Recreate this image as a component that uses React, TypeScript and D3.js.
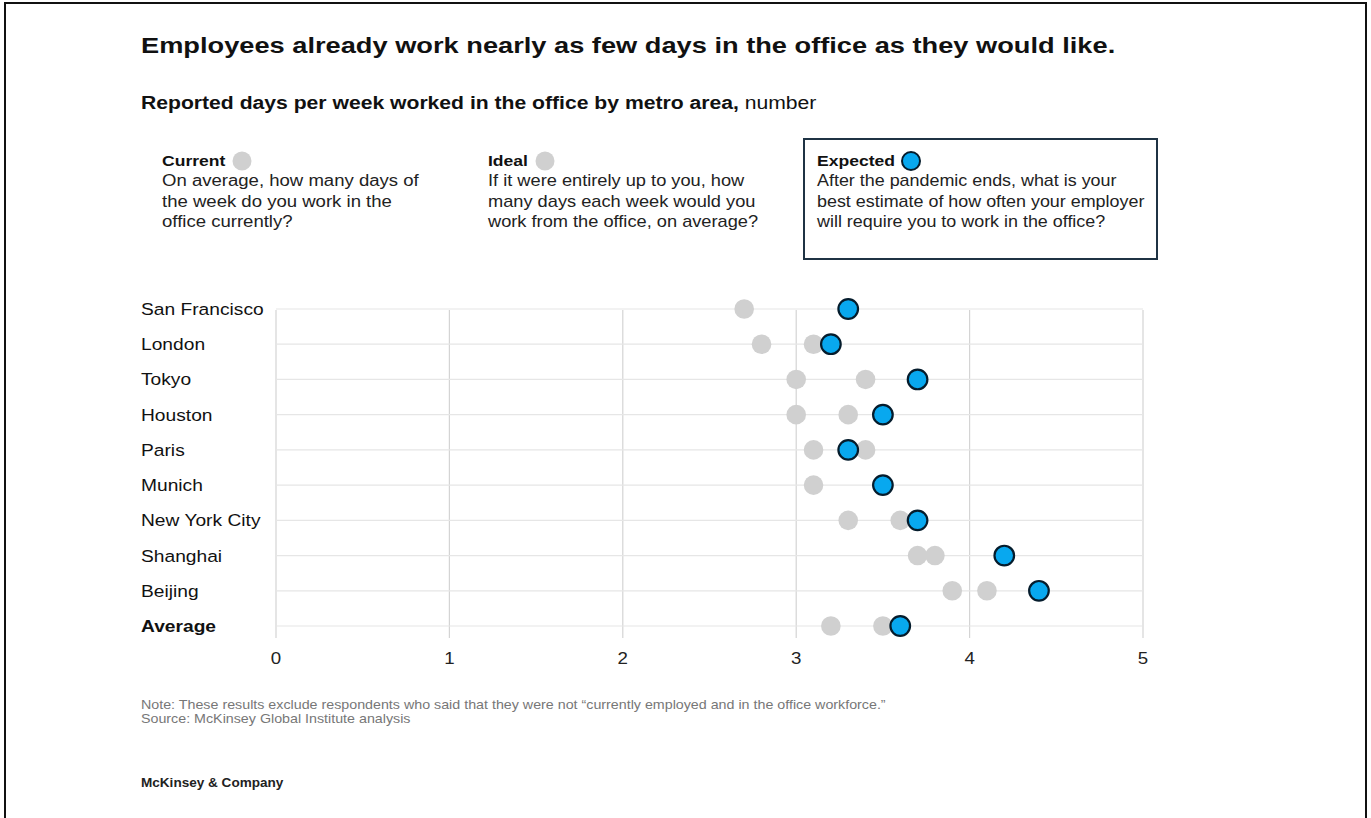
import React from "react";
import * as d3 from "d3";

const cities = ["San Francisco", "London", "Tokyo", "Houston", "Paris", "Munich", "New York City", "Shanghai", "Beijing", "Average"];
const current = [2.7, 2.8, 3.0, 3.0, 3.1, 3.1, 3.3, 3.7, 3.9, 3.2];
const ideal = [3.3, 3.1, 3.4, 3.3, 3.4, 3.5, 3.6, 3.8, 4.1, 3.5];
const expected = [3.3, 3.2, 3.7, 3.5, 3.3, 3.5, 3.7, 4.2, 4.4, 3.6];
const xTicks = [0, 1, 2, 3, 4, 5];

const legendItems = [
  { title: "Current", lines: ["On average, how many days of", "the week do you work in the", "office currently?"], kind: "grey" },
  { title: "Ideal", lines: ["If it were entirely up to you, how", "many days each week would you", "work from the office, on average?"], kind: "grey" },
  { title: "Expected", lines: ["After the pandemic ends, what is your", "best estimate of how often your employer", "will require you to work in the office?"], kind: "blue" },
];

const FONT = "'Liberation Sans', Arial, Helvetica, sans-serif";
const GREY = "#d0d0d0";
const BLUE = "#08a8ef";
const NAVY = "#051c2c";

function T(props: any) {
  const { x, y, sx = 1, children, ...rest } = props;
  return (
    <text transform={`translate(${x},${y}) scale(${sx},1)`} {...rest}>{children}</text>
  );
}

export default function App() {
  const W = 1371, H = 818;
  const x = d3.scaleLinear().domain([0, 5]).range([276, 1143]);
  const y = d3.scalePoint<string>().domain(cities).range([309, 626]);
  const legendX = [162, 488, 817];
  const legendSx = [1.16, 1.14, 1.12];
  const circleX = [242, 545, 911];

  return (
    <svg width={W} height={H} style={{ position: "absolute", left: 0, top: 0, background: "#fff" }} fontFamily={FONT}>
      <rect x={0} y={0} width={W} height={H} fill="#fff" />
      {/* frame */}
      <line x1={4} y1={3} x2={1367} y2={3} stroke="#111" strokeWidth={2} />
      <line x1={5} y1={2} x2={5} y2={H} stroke="#111" strokeWidth={2} />
      <line x1={1366} y1={2} x2={1366} y2={H} stroke="#111" strokeWidth={2} />

      <T x={141} y={53} sx={1.21} fontSize={22.5} fontWeight="bold" fill="#111">Employees already work nearly as few days in the office as they would like.</T>
      <T x={141} y={109} sx={1.175} fontSize={18} fill="#111">
        <tspan fontWeight="bold">Reported days per week worked in the office by metro area,</tspan>
        <tspan> number</tspan>
      </T>

      {/* legend */}
      <rect x={804} y={139} width={353} height={120} fill="none" stroke="#1f3344" strokeWidth={2} />
      {legendItems.map((it, i) => (
        <g key={it.title}>
          <T x={legendX[i]} y={166} sx={1.17} fontSize={15} fontWeight="bold" fill="#111">{it.title}</T>
          <circle cx={circleX[i]} cy={161} r={it.kind === "blue" ? 9 : 9.5}
            fill={it.kind === "blue" ? BLUE : GREY} stroke={it.kind === "blue" ? NAVY : "none"} strokeWidth={2} />
          {it.lines.map((l, j) => (
            <T key={j} x={legendX[i]} y={186 + j * 20.5} sx={legendSx[i]} fontSize={16} fill="#222">{l}</T>
          ))}
        </g>
      ))}

      {/* grid */}
      {xTicks.map((t) => (
        <line key={"v" + t} x1={x(t)} x2={x(t)} y1={310} y2={638} stroke="#d4d4d4" strokeWidth={1.2} />
      ))}
      {cities.map((c) => (
        <line key={"h" + c} x1={x(0)} x2={x(5)} y1={y(c)!} y2={y(c)!} stroke="#e6e6e6" strokeWidth={1.2} />
      ))}

      {/* labels */}
      {cities.map((c) => (
        <T key={"l" + c} x={141} y={y(c)! + 6} sx={1.13} fontSize={17} fill="#111" fontWeight={c === "Average" ? 600 : "normal"}>{c}</T>
      ))}
      {xTicks.map((t) => (
        <T key={"t" + t} x={x(t)} y={664} sx={1.1} fontSize={17} fill="#222" textAnchor="middle">{t}</T>
      ))}

      {/* dots */}
      {cities.map((c, i) => (
        <g key={"d" + c}>
          <circle cx={x(current[i])} cy={y(c)!} r={9.8} fill={GREY} />
          <circle cx={x(ideal[i])} cy={y(c)!} r={9.8} fill={GREY} />
          <circle cx={x(expected[i])} cy={y(c)!} r={9.8} fill={BLUE} stroke={NAVY} strokeWidth={2.2} />
        </g>
      ))}

      <T x={141} y={709} sx={1.19} fontSize={12} fill="#777">Note: These results exclude respondents who said that they were not “currently employed and in the office workforce.”</T>
      <T x={141} y={723} sx={1.19} fontSize={12} fill="#777">Source: McKinsey Global Institute analysis</T>
      <T x={141} y={787} sx={1.13} fontSize={12} fontWeight="bold" fill="#222">McKinsey &amp; Company</T>
    </svg>
  );
}
